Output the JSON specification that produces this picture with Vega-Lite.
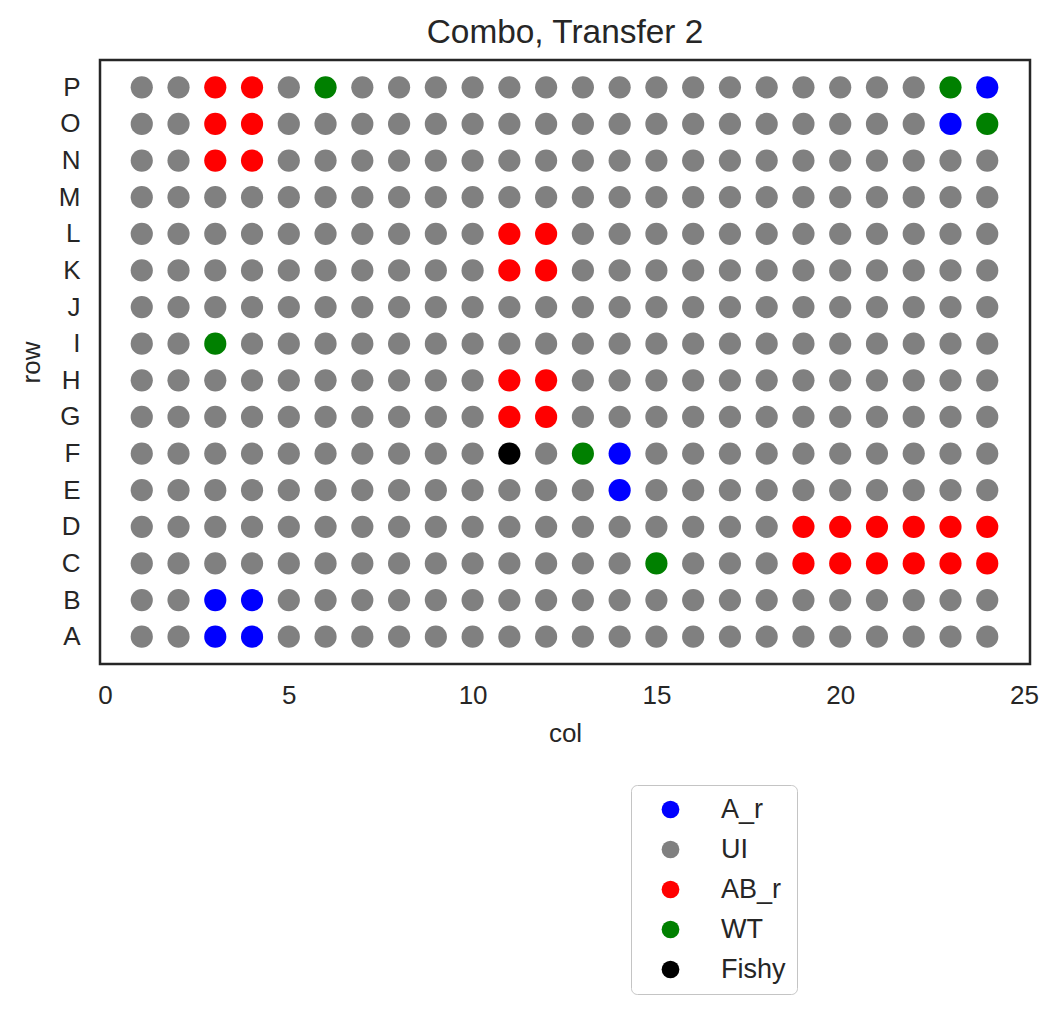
{
"$schema":"https://vega.github.io/schema/vega-lite/v6.json",
"autosize":{"type":"none"},
"padding":{"left":100,"top":60,"right":29,"bottom":349},
"width":930,"height":604,
"title":{"text":"Combo, Transfer 2","fontSize":33.4,"font":"Liberation Sans","fontWeight":"normal","color":"#262626","anchor":"middle","baseline":"alphabetic","offset":-16},
"data":{"values":[
{"row":"A","col":1,"g":"UI"},{"row":"A","col":2,"g":"UI"},{"row":"A","col":3,"g":"A_r"},{"row":"A","col":4,"g":"A_r"},{"row":"A","col":5,"g":"UI"},{"row":"A","col":6,"g":"UI"},{"row":"A","col":7,"g":"UI"},{"row":"A","col":8,"g":"UI"},{"row":"A","col":9,"g":"UI"},{"row":"A","col":10,"g":"UI"},{"row":"A","col":11,"g":"UI"},{"row":"A","col":12,"g":"UI"},{"row":"A","col":13,"g":"UI"},{"row":"A","col":14,"g":"UI"},{"row":"A","col":15,"g":"UI"},{"row":"A","col":16,"g":"UI"},{"row":"A","col":17,"g":"UI"},{"row":"A","col":18,"g":"UI"},{"row":"A","col":19,"g":"UI"},{"row":"A","col":20,"g":"UI"},{"row":"A","col":21,"g":"UI"},{"row":"A","col":22,"g":"UI"},{"row":"A","col":23,"g":"UI"},{"row":"A","col":24,"g":"UI"},
{"row":"B","col":1,"g":"UI"},{"row":"B","col":2,"g":"UI"},{"row":"B","col":3,"g":"A_r"},{"row":"B","col":4,"g":"A_r"},{"row":"B","col":5,"g":"UI"},{"row":"B","col":6,"g":"UI"},{"row":"B","col":7,"g":"UI"},{"row":"B","col":8,"g":"UI"},{"row":"B","col":9,"g":"UI"},{"row":"B","col":10,"g":"UI"},{"row":"B","col":11,"g":"UI"},{"row":"B","col":12,"g":"UI"},{"row":"B","col":13,"g":"UI"},{"row":"B","col":14,"g":"UI"},{"row":"B","col":15,"g":"UI"},{"row":"B","col":16,"g":"UI"},{"row":"B","col":17,"g":"UI"},{"row":"B","col":18,"g":"UI"},{"row":"B","col":19,"g":"UI"},{"row":"B","col":20,"g":"UI"},{"row":"B","col":21,"g":"UI"},{"row":"B","col":22,"g":"UI"},{"row":"B","col":23,"g":"UI"},{"row":"B","col":24,"g":"UI"},
{"row":"C","col":1,"g":"UI"},{"row":"C","col":2,"g":"UI"},{"row":"C","col":3,"g":"UI"},{"row":"C","col":4,"g":"UI"},{"row":"C","col":5,"g":"UI"},{"row":"C","col":6,"g":"UI"},{"row":"C","col":7,"g":"UI"},{"row":"C","col":8,"g":"UI"},{"row":"C","col":9,"g":"UI"},{"row":"C","col":10,"g":"UI"},{"row":"C","col":11,"g":"UI"},{"row":"C","col":12,"g":"UI"},{"row":"C","col":13,"g":"UI"},{"row":"C","col":14,"g":"UI"},{"row":"C","col":15,"g":"WT"},{"row":"C","col":16,"g":"UI"},{"row":"C","col":17,"g":"UI"},{"row":"C","col":18,"g":"UI"},{"row":"C","col":19,"g":"AB_r"},{"row":"C","col":20,"g":"AB_r"},{"row":"C","col":21,"g":"AB_r"},{"row":"C","col":22,"g":"AB_r"},{"row":"C","col":23,"g":"AB_r"},{"row":"C","col":24,"g":"AB_r"},
{"row":"D","col":1,"g":"UI"},{"row":"D","col":2,"g":"UI"},{"row":"D","col":3,"g":"UI"},{"row":"D","col":4,"g":"UI"},{"row":"D","col":5,"g":"UI"},{"row":"D","col":6,"g":"UI"},{"row":"D","col":7,"g":"UI"},{"row":"D","col":8,"g":"UI"},{"row":"D","col":9,"g":"UI"},{"row":"D","col":10,"g":"UI"},{"row":"D","col":11,"g":"UI"},{"row":"D","col":12,"g":"UI"},{"row":"D","col":13,"g":"UI"},{"row":"D","col":14,"g":"UI"},{"row":"D","col":15,"g":"UI"},{"row":"D","col":16,"g":"UI"},{"row":"D","col":17,"g":"UI"},{"row":"D","col":18,"g":"UI"},{"row":"D","col":19,"g":"AB_r"},{"row":"D","col":20,"g":"AB_r"},{"row":"D","col":21,"g":"AB_r"},{"row":"D","col":22,"g":"AB_r"},{"row":"D","col":23,"g":"AB_r"},{"row":"D","col":24,"g":"AB_r"},
{"row":"E","col":1,"g":"UI"},{"row":"E","col":2,"g":"UI"},{"row":"E","col":3,"g":"UI"},{"row":"E","col":4,"g":"UI"},{"row":"E","col":5,"g":"UI"},{"row":"E","col":6,"g":"UI"},{"row":"E","col":7,"g":"UI"},{"row":"E","col":8,"g":"UI"},{"row":"E","col":9,"g":"UI"},{"row":"E","col":10,"g":"UI"},{"row":"E","col":11,"g":"UI"},{"row":"E","col":12,"g":"UI"},{"row":"E","col":13,"g":"UI"},{"row":"E","col":14,"g":"A_r"},{"row":"E","col":15,"g":"UI"},{"row":"E","col":16,"g":"UI"},{"row":"E","col":17,"g":"UI"},{"row":"E","col":18,"g":"UI"},{"row":"E","col":19,"g":"UI"},{"row":"E","col":20,"g":"UI"},{"row":"E","col":21,"g":"UI"},{"row":"E","col":22,"g":"UI"},{"row":"E","col":23,"g":"UI"},{"row":"E","col":24,"g":"UI"},
{"row":"F","col":1,"g":"UI"},{"row":"F","col":2,"g":"UI"},{"row":"F","col":3,"g":"UI"},{"row":"F","col":4,"g":"UI"},{"row":"F","col":5,"g":"UI"},{"row":"F","col":6,"g":"UI"},{"row":"F","col":7,"g":"UI"},{"row":"F","col":8,"g":"UI"},{"row":"F","col":9,"g":"UI"},{"row":"F","col":10,"g":"UI"},{"row":"F","col":11,"g":"Fishy"},{"row":"F","col":12,"g":"UI"},{"row":"F","col":13,"g":"WT"},{"row":"F","col":14,"g":"A_r"},{"row":"F","col":15,"g":"UI"},{"row":"F","col":16,"g":"UI"},{"row":"F","col":17,"g":"UI"},{"row":"F","col":18,"g":"UI"},{"row":"F","col":19,"g":"UI"},{"row":"F","col":20,"g":"UI"},{"row":"F","col":21,"g":"UI"},{"row":"F","col":22,"g":"UI"},{"row":"F","col":23,"g":"UI"},{"row":"F","col":24,"g":"UI"},
{"row":"G","col":1,"g":"UI"},{"row":"G","col":2,"g":"UI"},{"row":"G","col":3,"g":"UI"},{"row":"G","col":4,"g":"UI"},{"row":"G","col":5,"g":"UI"},{"row":"G","col":6,"g":"UI"},{"row":"G","col":7,"g":"UI"},{"row":"G","col":8,"g":"UI"},{"row":"G","col":9,"g":"UI"},{"row":"G","col":10,"g":"UI"},{"row":"G","col":11,"g":"AB_r"},{"row":"G","col":12,"g":"AB_r"},{"row":"G","col":13,"g":"UI"},{"row":"G","col":14,"g":"UI"},{"row":"G","col":15,"g":"UI"},{"row":"G","col":16,"g":"UI"},{"row":"G","col":17,"g":"UI"},{"row":"G","col":18,"g":"UI"},{"row":"G","col":19,"g":"UI"},{"row":"G","col":20,"g":"UI"},{"row":"G","col":21,"g":"UI"},{"row":"G","col":22,"g":"UI"},{"row":"G","col":23,"g":"UI"},{"row":"G","col":24,"g":"UI"},
{"row":"H","col":1,"g":"UI"},{"row":"H","col":2,"g":"UI"},{"row":"H","col":3,"g":"UI"},{"row":"H","col":4,"g":"UI"},{"row":"H","col":5,"g":"UI"},{"row":"H","col":6,"g":"UI"},{"row":"H","col":7,"g":"UI"},{"row":"H","col":8,"g":"UI"},{"row":"H","col":9,"g":"UI"},{"row":"H","col":10,"g":"UI"},{"row":"H","col":11,"g":"AB_r"},{"row":"H","col":12,"g":"AB_r"},{"row":"H","col":13,"g":"UI"},{"row":"H","col":14,"g":"UI"},{"row":"H","col":15,"g":"UI"},{"row":"H","col":16,"g":"UI"},{"row":"H","col":17,"g":"UI"},{"row":"H","col":18,"g":"UI"},{"row":"H","col":19,"g":"UI"},{"row":"H","col":20,"g":"UI"},{"row":"H","col":21,"g":"UI"},{"row":"H","col":22,"g":"UI"},{"row":"H","col":23,"g":"UI"},{"row":"H","col":24,"g":"UI"},
{"row":"I","col":1,"g":"UI"},{"row":"I","col":2,"g":"UI"},{"row":"I","col":3,"g":"WT"},{"row":"I","col":4,"g":"UI"},{"row":"I","col":5,"g":"UI"},{"row":"I","col":6,"g":"UI"},{"row":"I","col":7,"g":"UI"},{"row":"I","col":8,"g":"UI"},{"row":"I","col":9,"g":"UI"},{"row":"I","col":10,"g":"UI"},{"row":"I","col":11,"g":"UI"},{"row":"I","col":12,"g":"UI"},{"row":"I","col":13,"g":"UI"},{"row":"I","col":14,"g":"UI"},{"row":"I","col":15,"g":"UI"},{"row":"I","col":16,"g":"UI"},{"row":"I","col":17,"g":"UI"},{"row":"I","col":18,"g":"UI"},{"row":"I","col":19,"g":"UI"},{"row":"I","col":20,"g":"UI"},{"row":"I","col":21,"g":"UI"},{"row":"I","col":22,"g":"UI"},{"row":"I","col":23,"g":"UI"},{"row":"I","col":24,"g":"UI"},
{"row":"J","col":1,"g":"UI"},{"row":"J","col":2,"g":"UI"},{"row":"J","col":3,"g":"UI"},{"row":"J","col":4,"g":"UI"},{"row":"J","col":5,"g":"UI"},{"row":"J","col":6,"g":"UI"},{"row":"J","col":7,"g":"UI"},{"row":"J","col":8,"g":"UI"},{"row":"J","col":9,"g":"UI"},{"row":"J","col":10,"g":"UI"},{"row":"J","col":11,"g":"UI"},{"row":"J","col":12,"g":"UI"},{"row":"J","col":13,"g":"UI"},{"row":"J","col":14,"g":"UI"},{"row":"J","col":15,"g":"UI"},{"row":"J","col":16,"g":"UI"},{"row":"J","col":17,"g":"UI"},{"row":"J","col":18,"g":"UI"},{"row":"J","col":19,"g":"UI"},{"row":"J","col":20,"g":"UI"},{"row":"J","col":21,"g":"UI"},{"row":"J","col":22,"g":"UI"},{"row":"J","col":23,"g":"UI"},{"row":"J","col":24,"g":"UI"},
{"row":"K","col":1,"g":"UI"},{"row":"K","col":2,"g":"UI"},{"row":"K","col":3,"g":"UI"},{"row":"K","col":4,"g":"UI"},{"row":"K","col":5,"g":"UI"},{"row":"K","col":6,"g":"UI"},{"row":"K","col":7,"g":"UI"},{"row":"K","col":8,"g":"UI"},{"row":"K","col":9,"g":"UI"},{"row":"K","col":10,"g":"UI"},{"row":"K","col":11,"g":"AB_r"},{"row":"K","col":12,"g":"AB_r"},{"row":"K","col":13,"g":"UI"},{"row":"K","col":14,"g":"UI"},{"row":"K","col":15,"g":"UI"},{"row":"K","col":16,"g":"UI"},{"row":"K","col":17,"g":"UI"},{"row":"K","col":18,"g":"UI"},{"row":"K","col":19,"g":"UI"},{"row":"K","col":20,"g":"UI"},{"row":"K","col":21,"g":"UI"},{"row":"K","col":22,"g":"UI"},{"row":"K","col":23,"g":"UI"},{"row":"K","col":24,"g":"UI"},
{"row":"L","col":1,"g":"UI"},{"row":"L","col":2,"g":"UI"},{"row":"L","col":3,"g":"UI"},{"row":"L","col":4,"g":"UI"},{"row":"L","col":5,"g":"UI"},{"row":"L","col":6,"g":"UI"},{"row":"L","col":7,"g":"UI"},{"row":"L","col":8,"g":"UI"},{"row":"L","col":9,"g":"UI"},{"row":"L","col":10,"g":"UI"},{"row":"L","col":11,"g":"AB_r"},{"row":"L","col":12,"g":"AB_r"},{"row":"L","col":13,"g":"UI"},{"row":"L","col":14,"g":"UI"},{"row":"L","col":15,"g":"UI"},{"row":"L","col":16,"g":"UI"},{"row":"L","col":17,"g":"UI"},{"row":"L","col":18,"g":"UI"},{"row":"L","col":19,"g":"UI"},{"row":"L","col":20,"g":"UI"},{"row":"L","col":21,"g":"UI"},{"row":"L","col":22,"g":"UI"},{"row":"L","col":23,"g":"UI"},{"row":"L","col":24,"g":"UI"},
{"row":"M","col":1,"g":"UI"},{"row":"M","col":2,"g":"UI"},{"row":"M","col":3,"g":"UI"},{"row":"M","col":4,"g":"UI"},{"row":"M","col":5,"g":"UI"},{"row":"M","col":6,"g":"UI"},{"row":"M","col":7,"g":"UI"},{"row":"M","col":8,"g":"UI"},{"row":"M","col":9,"g":"UI"},{"row":"M","col":10,"g":"UI"},{"row":"M","col":11,"g":"UI"},{"row":"M","col":12,"g":"UI"},{"row":"M","col":13,"g":"UI"},{"row":"M","col":14,"g":"UI"},{"row":"M","col":15,"g":"UI"},{"row":"M","col":16,"g":"UI"},{"row":"M","col":17,"g":"UI"},{"row":"M","col":18,"g":"UI"},{"row":"M","col":19,"g":"UI"},{"row":"M","col":20,"g":"UI"},{"row":"M","col":21,"g":"UI"},{"row":"M","col":22,"g":"UI"},{"row":"M","col":23,"g":"UI"},{"row":"M","col":24,"g":"UI"},
{"row":"N","col":1,"g":"UI"},{"row":"N","col":2,"g":"UI"},{"row":"N","col":3,"g":"AB_r"},{"row":"N","col":4,"g":"AB_r"},{"row":"N","col":5,"g":"UI"},{"row":"N","col":6,"g":"UI"},{"row":"N","col":7,"g":"UI"},{"row":"N","col":8,"g":"UI"},{"row":"N","col":9,"g":"UI"},{"row":"N","col":10,"g":"UI"},{"row":"N","col":11,"g":"UI"},{"row":"N","col":12,"g":"UI"},{"row":"N","col":13,"g":"UI"},{"row":"N","col":14,"g":"UI"},{"row":"N","col":15,"g":"UI"},{"row":"N","col":16,"g":"UI"},{"row":"N","col":17,"g":"UI"},{"row":"N","col":18,"g":"UI"},{"row":"N","col":19,"g":"UI"},{"row":"N","col":20,"g":"UI"},{"row":"N","col":21,"g":"UI"},{"row":"N","col":22,"g":"UI"},{"row":"N","col":23,"g":"UI"},{"row":"N","col":24,"g":"UI"},
{"row":"O","col":1,"g":"UI"},{"row":"O","col":2,"g":"UI"},{"row":"O","col":3,"g":"AB_r"},{"row":"O","col":4,"g":"AB_r"},{"row":"O","col":5,"g":"UI"},{"row":"O","col":6,"g":"UI"},{"row":"O","col":7,"g":"UI"},{"row":"O","col":8,"g":"UI"},{"row":"O","col":9,"g":"UI"},{"row":"O","col":10,"g":"UI"},{"row":"O","col":11,"g":"UI"},{"row":"O","col":12,"g":"UI"},{"row":"O","col":13,"g":"UI"},{"row":"O","col":14,"g":"UI"},{"row":"O","col":15,"g":"UI"},{"row":"O","col":16,"g":"UI"},{"row":"O","col":17,"g":"UI"},{"row":"O","col":18,"g":"UI"},{"row":"O","col":19,"g":"UI"},{"row":"O","col":20,"g":"UI"},{"row":"O","col":21,"g":"UI"},{"row":"O","col":22,"g":"UI"},{"row":"O","col":23,"g":"A_r"},{"row":"O","col":24,"g":"WT"},
{"row":"P","col":1,"g":"UI"},{"row":"P","col":2,"g":"UI"},{"row":"P","col":3,"g":"AB_r"},{"row":"P","col":4,"g":"AB_r"},{"row":"P","col":5,"g":"UI"},{"row":"P","col":6,"g":"WT"},{"row":"P","col":7,"g":"UI"},{"row":"P","col":8,"g":"UI"},{"row":"P","col":9,"g":"UI"},{"row":"P","col":10,"g":"UI"},{"row":"P","col":11,"g":"UI"},{"row":"P","col":12,"g":"UI"},{"row":"P","col":13,"g":"UI"},{"row":"P","col":14,"g":"UI"},{"row":"P","col":15,"g":"UI"},{"row":"P","col":16,"g":"UI"},{"row":"P","col":17,"g":"UI"},{"row":"P","col":18,"g":"UI"},{"row":"P","col":19,"g":"UI"},{"row":"P","col":20,"g":"UI"},{"row":"P","col":21,"g":"UI"},{"row":"P","col":22,"g":"UI"},{"row":"P","col":23,"g":"WT"},{"row":"P","col":24,"g":"A_r"}
]},
"mark":{"type":"point","shape":"circle","filled":true,"opacity":1,"size":491,"strokeWidth":0},
"encoding":{
"x":{"field":"col","type":"quantitative","scale":{"domain":[-0.136,25.163],"nice":false,"zero":false},
"axis":{"title":"col","values":[0,5,10,15,20,25],"grid":false,"ticks":false,"domain":false,"labelFlush":false,"labelOverlap":false,"labelBound":false,"labelPadding":18,"titlePadding":12}},
"y":{"field":"row","type":"ordinal","scale":{"type":"point","domain":["P","O","N","M","L","K","J","I","H","G","F","E","D","C","B","A"],"padding":0.746},
"axis":{"title":"row","grid":false,"ticks":false,"domain":false,"labelPadding":20,"titlePadding":14}},
"color":{"field":"g","type":"nominal","scale":{"domain":["A_r","UI","AB_r","WT","Fishy"],"range":["#0000ff","#808080","#ff0000","#008000","#000000"]},
"legend":{"title":null,"orient":"none","legendX":531,"legendY":725,"padding":11,"symbolOffset":15,"labelOffset":37,"rowPadding":12,"symbolSize":314,"symbolType":"circle","symbolStrokeWidth":0,"symbolOpacity":1,"labelFontSize":27,"labelColor":"#262626","labelFont":"Liberation Sans","strokeColor":"#c4c4c4","cornerRadius":6,"fillColor":"#ffffff"}}
},
"config":{
"font":"Liberation Sans",
"view":{"stroke":"#262626","strokeWidth":2.5},
"axis":{"labelFontSize":26,"titleFontSize":26,"labelColor":"#262626","titleColor":"#262626","titleFontWeight":"normal","labelFont":"Liberation Sans","titleFont":"Liberation Sans"}
}
}
